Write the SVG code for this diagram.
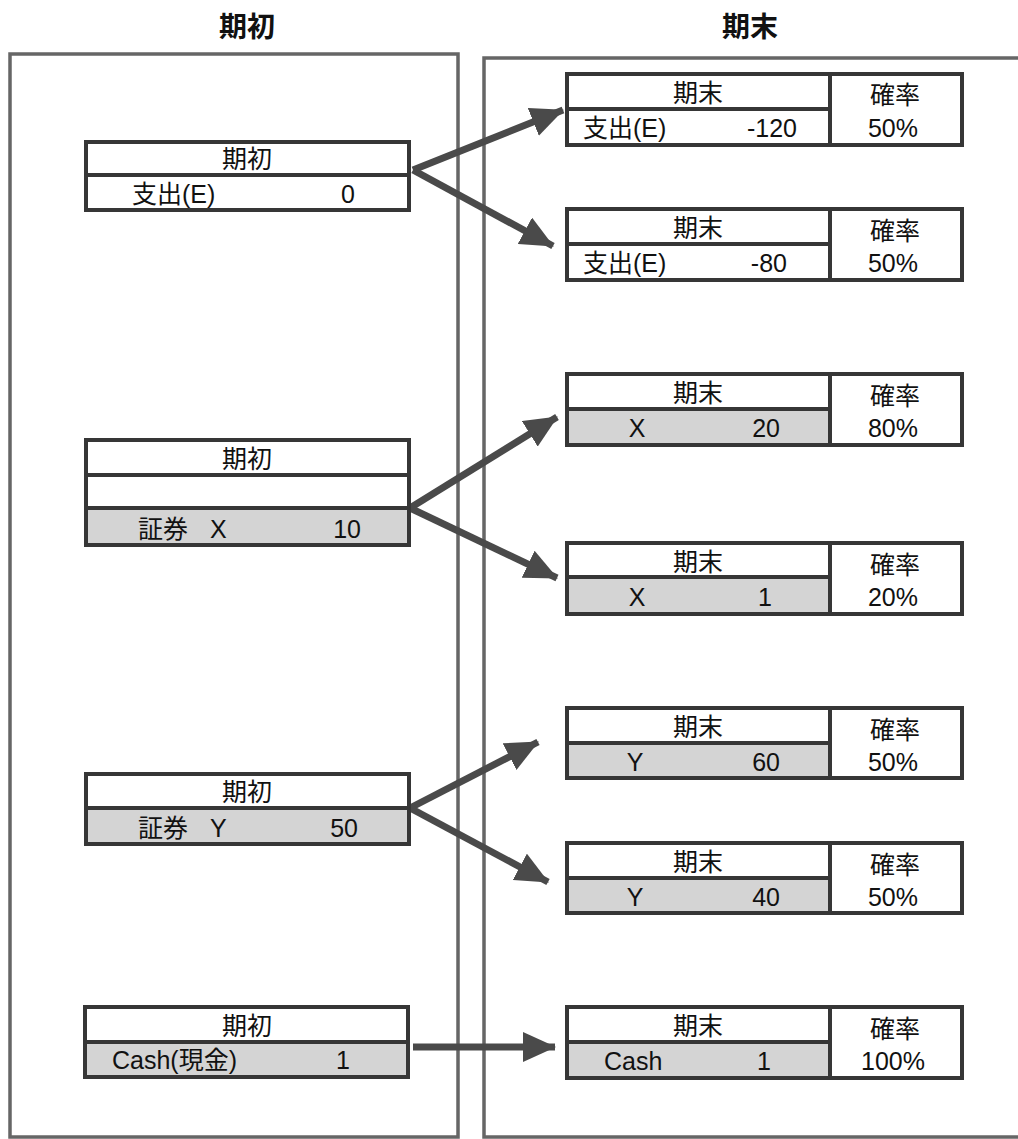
<svg xmlns="http://www.w3.org/2000/svg" width="1018" height="1139" viewBox="0 0 1018 1139">
<style>
  .frame{fill:none;stroke:#666;stroke-width:3.5}
  .box{fill:#fff;stroke:#363636;stroke-width:4}
  .gray{fill:#d4d4d4}
  .div{stroke:#363636;stroke-width:4}
  .t{font-family:"Liberation Sans","Noto Sans CJK JP",sans-serif;font-size:25px;fill:#111}
  .c{text-anchor:middle}
  .e{text-anchor:end}
  .title{font-family:"Noto Sans CJK JP","Liberation Sans",sans-serif;font-size:28px;font-weight:bold;fill:#111;text-anchor:middle}
  .arrow{stroke:#4a4a4a;stroke-width:7;fill:none;marker-end:url(#ah)}
</style>
<defs>
  <marker id="ah" markerUnits="userSpaceOnUse" markerWidth="34" markerHeight="30" refX="32" refY="15" orient="auto">
    <path d="M0,0 L33,15 L0,30 Z" fill="#4a4a4a"/>
  </marker>
</defs>
<rect width="1018" height="1139" fill="#fff"/>

<g id="headers">
  <text class="title" x="247" y="37">期初</text>
  <text class="title" x="750" y="37">期末</text>
</g>

<g id="frames">
  <rect class="frame" x="10" y="54" width="448" height="1083"/>
  <rect class="frame" x="484" y="58" width="540" height="1079"/>
</g>

<g id="connectors">
  <line class="arrow" x1="413" y1="170" x2="563" y2="110"/>
  <line class="arrow" x1="413" y1="170" x2="553" y2="246"/>
  <line class="arrow" x1="410" y1="508" x2="557" y2="417"/>
  <line class="arrow" x1="410" y1="508" x2="557" y2="578"/>
  <line class="arrow" x1="410" y1="808" x2="538" y2="742"/>
  <line class="arrow" x1="410" y1="808" x2="548" y2="882"/>
  <line class="arrow" x1="413" y1="1047" x2="555" y2="1047"/>
</g>

<!-- Left nodes -->
<g id="L1">
  <rect class="box" x="86" y="142" width="323" height="68"/>
  <line class="div" x1="86" y1="175" x2="409" y2="175"/>
  <text class="t c" x="247" y="168">期初</text>
  <text class="t" x="132" y="203">支出(E)</text>
  <text class="t e" x="355" y="203">0</text>
</g>
<g id="L2">
  <rect class="box" x="86" y="440" width="323" height="105"/>
  <rect class="gray" x="88" y="510" width="319" height="33"/>
  <line class="div" x1="86" y1="475" x2="409" y2="475"/>
  <line class="div" x1="86" y1="508" x2="409" y2="508"/>
  <text class="t c" x="247" y="468">期初</text>
  <text class="t" x="138" y="538">証券</text>
  <text class="t" x="210" y="538">X</text>
  <text class="t e" x="361" y="538">10</text>
</g>
<g id="L3">
  <rect class="box" x="86" y="774" width="323" height="70"/>
  <rect class="gray" x="88" y="810" width="319" height="32"/>
  <line class="div" x1="86" y1="808" x2="409" y2="808"/>
  <text class="t c" x="247" y="801">期初</text>
  <text class="t" x="138" y="837">証券</text>
  <text class="t" x="210" y="837">Y</text>
  <text class="t e" x="358" y="837">50</text>
</g>
<g id="L4">
  <rect class="box" x="85" y="1007" width="323" height="70"/>
  <rect class="gray" x="87" y="1044" width="319" height="31"/>
  <line class="div" x1="85" y1="1042" x2="408" y2="1042"/>
  <text class="t c" x="247" y="1035">期初</text>
  <text class="t" x="112" y="1069">Cash(現金)</text>
  <text class="t e" x="350" y="1069">1</text>
</g>

<!-- Right nodes -->
<g id="R1">
  <rect class="box" x="567" y="74" width="395" height="71"/>
  <line class="div" x1="567" y1="109" x2="830" y2="109"/>
  <line class="div" x1="830" y1="74" x2="830" y2="145"/>
  <text class="t c" x="698" y="102">期末</text>
  <text class="t" x="583" y="137">支出(E)</text>
  <text class="t e" x="797" y="137">-120</text>
  <text class="t c" x="895" y="104">確率</text>
  <text class="t c" x="893" y="137">50%</text>
</g>
<g id="R2">
  <rect class="box" x="567" y="209" width="395" height="71"/>
  <line class="div" x1="567" y1="244" x2="830" y2="244"/>
  <line class="div" x1="830" y1="209" x2="830" y2="280"/>
  <text class="t c" x="698" y="237">期末</text>
  <text class="t" x="583" y="272">支出(E)</text>
  <text class="t e" x="787" y="272">-80</text>
  <text class="t c" x="895" y="240">確率</text>
  <text class="t c" x="893" y="272">50%</text>
</g>
<g id="R3">
  <rect class="box" x="567" y="374" width="395" height="71"/>
  <rect class="gray" x="569" y="411" width="260" height="32"/>
  <line class="div" x1="567" y1="409" x2="830" y2="409"/>
  <line class="div" x1="830" y1="374" x2="830" y2="445"/>
  <text class="t c" x="698" y="402">期末</text>
  <text class="t c" x="637" y="437">X</text>
  <text class="t e" x="780" y="437">20</text>
  <text class="t c" x="895" y="405">確率</text>
  <text class="t c" x="893" y="437">80%</text>
</g>
<g id="R4">
  <rect class="box" x="567" y="543" width="395" height="71"/>
  <rect class="gray" x="569" y="579" width="260" height="33"/>
  <line class="div" x1="567" y1="577" x2="830" y2="577"/>
  <line class="div" x1="830" y1="543" x2="830" y2="614"/>
  <text class="t c" x="698" y="571">期末</text>
  <text class="t c" x="637" y="606">X</text>
  <text class="t e" x="772" y="606">1</text>
  <text class="t c" x="895" y="574">確率</text>
  <text class="t c" x="893" y="606">20%</text>
</g>
<g id="R5">
  <rect class="box" x="567" y="708" width="395" height="70"/>
  <rect class="gray" x="569" y="745" width="260" height="31"/>
  <line class="div" x1="567" y1="743" x2="830" y2="743"/>
  <line class="div" x1="830" y1="708" x2="830" y2="778"/>
  <text class="t c" x="698" y="736">期末</text>
  <text class="t c" x="635" y="771">Y</text>
  <text class="t e" x="780" y="771">60</text>
  <text class="t c" x="895" y="739">確率</text>
  <text class="t c" x="893" y="771">50%</text>
</g>
<g id="R6">
  <rect class="box" x="567" y="843" width="395" height="70"/>
  <rect class="gray" x="569" y="880" width="260" height="31"/>
  <line class="div" x1="567" y1="878" x2="830" y2="878"/>
  <line class="div" x1="830" y1="843" x2="830" y2="913"/>
  <text class="t c" x="698" y="871">期末</text>
  <text class="t c" x="635" y="906">Y</text>
  <text class="t e" x="780" y="906">40</text>
  <text class="t c" x="895" y="874">確率</text>
  <text class="t c" x="893" y="906">50%</text>
</g>
<g id="R7">
  <rect class="box" x="567" y="1007" width="395" height="71"/>
  <rect class="gray" x="569" y="1044" width="260" height="32"/>
  <line class="div" x1="567" y1="1042" x2="830" y2="1042"/>
  <line class="div" x1="830" y1="1007" x2="830" y2="1078"/>
  <text class="t c" x="698" y="1035">期末</text>
  <text class="t" x="604" y="1070">Cash</text>
  <text class="t e" x="771" y="1070">1</text>
  <text class="t c" x="895" y="1038">確率</text>
  <text class="t c" x="893" y="1070">100%</text>
</g>
</svg>
